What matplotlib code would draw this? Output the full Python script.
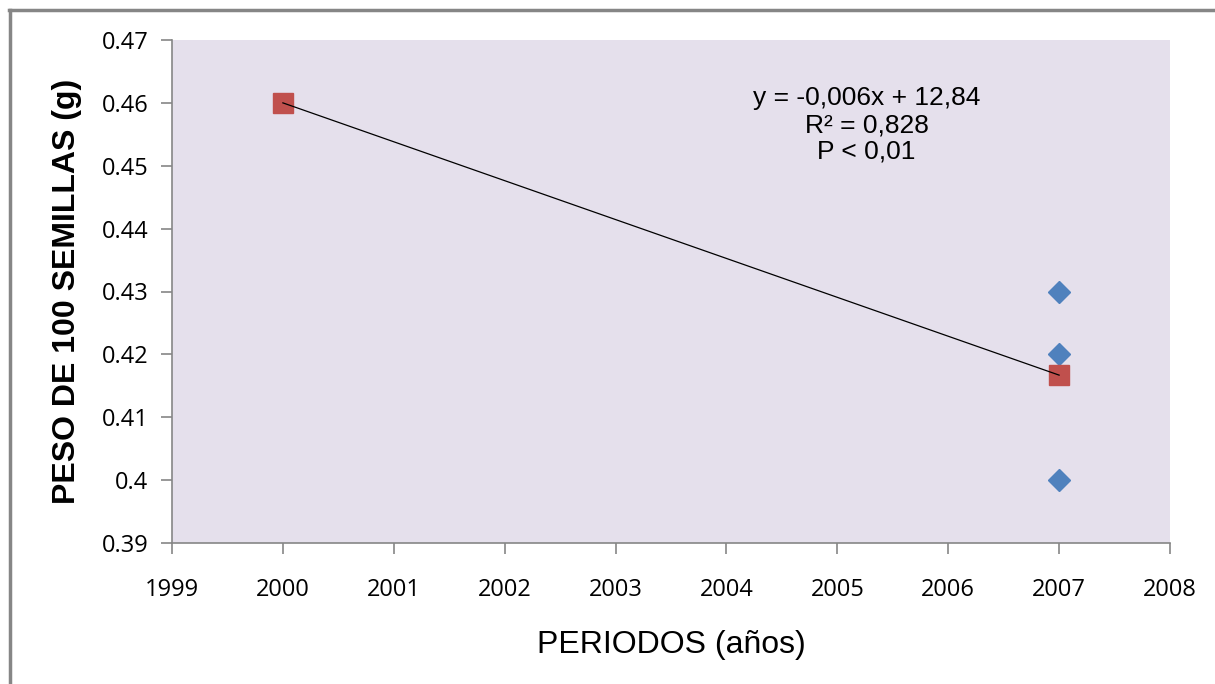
import numpy as np
import matplotlib
matplotlib.use("Agg")
import matplotlib.pyplot as plt
from matplotlib.lines import Line2D

# Data
years_obs = [2007, 2007, 2007]
weights_obs = [0.43, 0.42, 0.40]
years_mean = [2000, 2007]
weights_mean = [0.46, 0.4167]
x_ticks = [1999, 2000, 2001, 2002, 2003, 2004, 2005, 2006, 2007, 2008]
y_ticks = [0.39, 0.40, 0.41, 0.42, 0.43, 0.44, 0.45, 0.46, 0.47]
y_tick_labels = ["0.39", "0.4", "0.41", "0.42", "0.43", "0.44", "0.45", "0.46", "0.47"]
equation_lines = ["y = -0,006x + 12,84", "R² = 0,828", "P < 0,01"]

fig = plt.figure(figsize=(12.15, 6.84), dpi=100)
ax = fig.add_axes([172/1215, 1 - 543/684, (1170-172)/1215, (543-40)/684])
ax.set_facecolor("#E5E0EC")

ax.plot(years_obs, weights_obs, linestyle="none", marker="D", markersize=11.5,
        color="#4F81BD", markeredgecolor="#4F81BD", zorder=3)
ax.plot(years_mean, weights_mean, linestyle="none", marker="s", markersize=14.5,
        color="#C0504D", markeredgecolor="#C0504D", zorder=3)

coef = np.polyfit(years_mean, weights_mean, 1)
xs = np.array(years_mean, dtype=float)
ax.plot(xs, np.polyval(coef, xs), color="black", linewidth=0.9, zorder=4)

ax.set_xlim(1999, 2008)
ax.set_ylim(0.39, 0.47)
ax.set_xticks(x_ticks)
ax.set_xticklabels([str(t) for t in x_ticks])
ax.set_yticks(y_ticks)
ax.set_yticklabels(y_tick_labels)

for s in ["top", "right"]:
    ax.spines[s].set_visible(False)
for s in ["left", "bottom"]:
    ax.spines[s].set_color("#868686")
    ax.spines[s].set_linewidth(1.2)

ax.tick_params(axis="both", direction="out", length=8, width=1.2, color="#868686",
               labelsize=17, labelcolor="black")
ax.tick_params(axis="y", pad=9)
ax.tick_params(axis="x", pad=17)
for lab in ax.get_xticklabels() + ax.get_yticklabels():
    lab.set_family("Open Sans")

ax.set_xlabel("PERIODOS (años)", fontsize=23, family="Liberation Sans", labelpad=20)
ax.set_ylabel("PESO DE 100 SEMILLAS (g)", fontsize=23, family="Liberation Sans",
              fontweight="bold", labelpad=14)

ax.text(0.696, 0.831, "\n".join(equation_lines), transform=ax.transAxes,
        ha="center", va="center", fontsize=19, family="Liberation Sans",
        linespacing=1.15)

# Outer chart border (left and top visible)
fig.add_artist(Line2D([10/1215, 10/1215], [0, 1 - 10/684], color="#868686",
                      linewidth=2.5, transform=fig.transFigure))
fig.add_artist(Line2D([9/1215, 1], [1 - 10/684, 1 - 10/684], color="#868686",
                      linewidth=2.5, transform=fig.transFigure))

fig.savefig("out.png", dpi=100)
